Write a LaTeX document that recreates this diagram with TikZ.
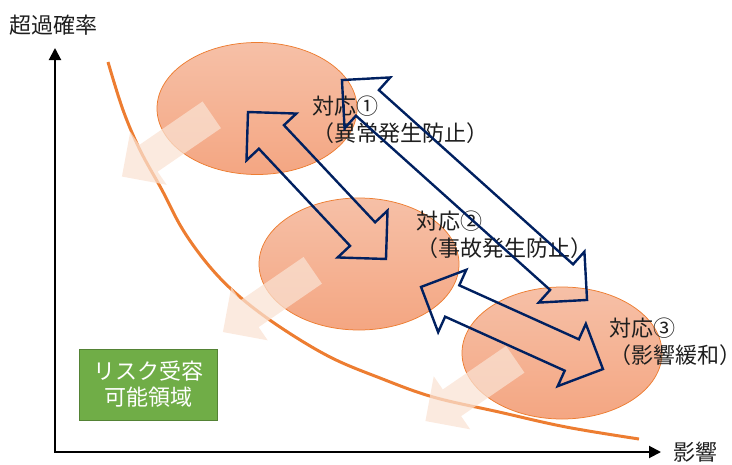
\documentclass[tikz,border=0pt]{standalone}
\usepackage{fontspec}
\setmainfont{Noto Sans CJK JP}
\usetikzlibrary{shapes.geometric,shapes.arrows,arrows.meta}
\definecolor{navy}{RGB}{0,32,96}
\definecolor{curveorange}{RGB}{237,125,49}
\definecolor{elltop}{RGB}{246,192,167}
\definecolor{ellbot}{RGB}{244,166,130}
\definecolor{ghost}{RGB}{250,226,211}
\definecolor{okgreen}{RGB}{112,173,71}
\definecolor{okgreenline}{RGB}{84,130,53}
\definecolor{txt}{RGB}{30,30,30}
\begin{document}
\begin{tikzpicture}[x=1pt,y=-1pt,
  zone/.style={ellipse, draw=curveorange, line width=0.75pt, top color=elltop, bottom color=ellbot, minimum width=200pt, minimum height=132pt, inner sep=0pt},
  ghostarrow/.style={single arrow, fill=ghost, fill opacity=0.73, draw=none, minimum height=109pt, single arrow head extend=16pt, single arrow tip angle=90, inner xsep=0pt, inner ysep=16pt, anchor=tip},
  linkarrow/.style={double arrow, draw=navy, line width=2.4pt, double arrow head extend=17pt, double arrow tip angle=90, inner xsep=0pt, inner ysep=16pt},
  lbl/.style={font=\fontsize{22}{27}\selectfont, text=txt, align=left, inner sep=0pt, anchor=west},
  riskbox/.style={draw=okgreenline, line width=0.75pt, fill=okgreen, text=white, minimum width=138pt, minimum height=71pt, inner sep=0pt, align=center, font=\fontsize{22}{26}\selectfont},
  axis/.style={line width=2pt, {Triangle[length=12pt,width=12pt]}-{Triangle[length=12pt,width=12pt]}},
  riskcurve/.style={curveorange, line width=3pt},
]
\useasboundingbox (0,0) rectangle (732,464);

% axes
\coordinate (ytip) at (55,48);
\coordinate (origin) at (55,452);
\coordinate (xtip) at (661,452);
\draw[axis] (ytip) -- (origin) -- (xtip);
\node[lbl] (ylab) at (9,25) {超過確率};
\node[lbl] (xlab) at (673,452) {影響};

% zones
\node[zone] (z1) at (257,108.5) {};
\node[zone] (z2) at (359,264) {};
\node[zone] (z3) at (562,353) {};

% risk curve
\draw[riskcurve] plot[smooth, tension=0.6] coordinates {(108,62) (123,110) (140,150) (162,190) (183,230) (210,267) (240,297) (280,327) (330,357) (380,378) (433,397) (499,412) (566,427) (639,439)};

% pale arrows
\node[ghostarrow, rotate=214.5] (g1) at (121.7,176.7) {};
\node[ghostarrow, rotate=214.5] (g2) at (222.7,332.2) {};
\node[ghostarrow, rotate=214.5] (g3) at (425.2,421.2) {};

% risk acceptable box
\node[riskbox] (safe) at (148,384.5) {リスク受容\\可能領域};

% labels
\node[lbl] (t1) at (312,119.5) {対応①\\（異常発生防止）};
\node[lbl] (t2) at (416,234.5) {対応②\\（事故発生防止）};
\node[lbl] (t3) at (609,342) {対応③\\（影響緩和）};

% navy double arrows
\node[linkarrow, rotate=-46.8, minimum height=201.6pt] (a12) at (317,185.5) {};
\node[linkarrow, rotate=-41.9, minimum height=329.3pt] (a13) at (464.5,190) {};
\node[linkarrow, rotate=-24.3, minimum height=199.6pt] (a23) at (512,328) {};
\end{tikzpicture}
\end{document}
